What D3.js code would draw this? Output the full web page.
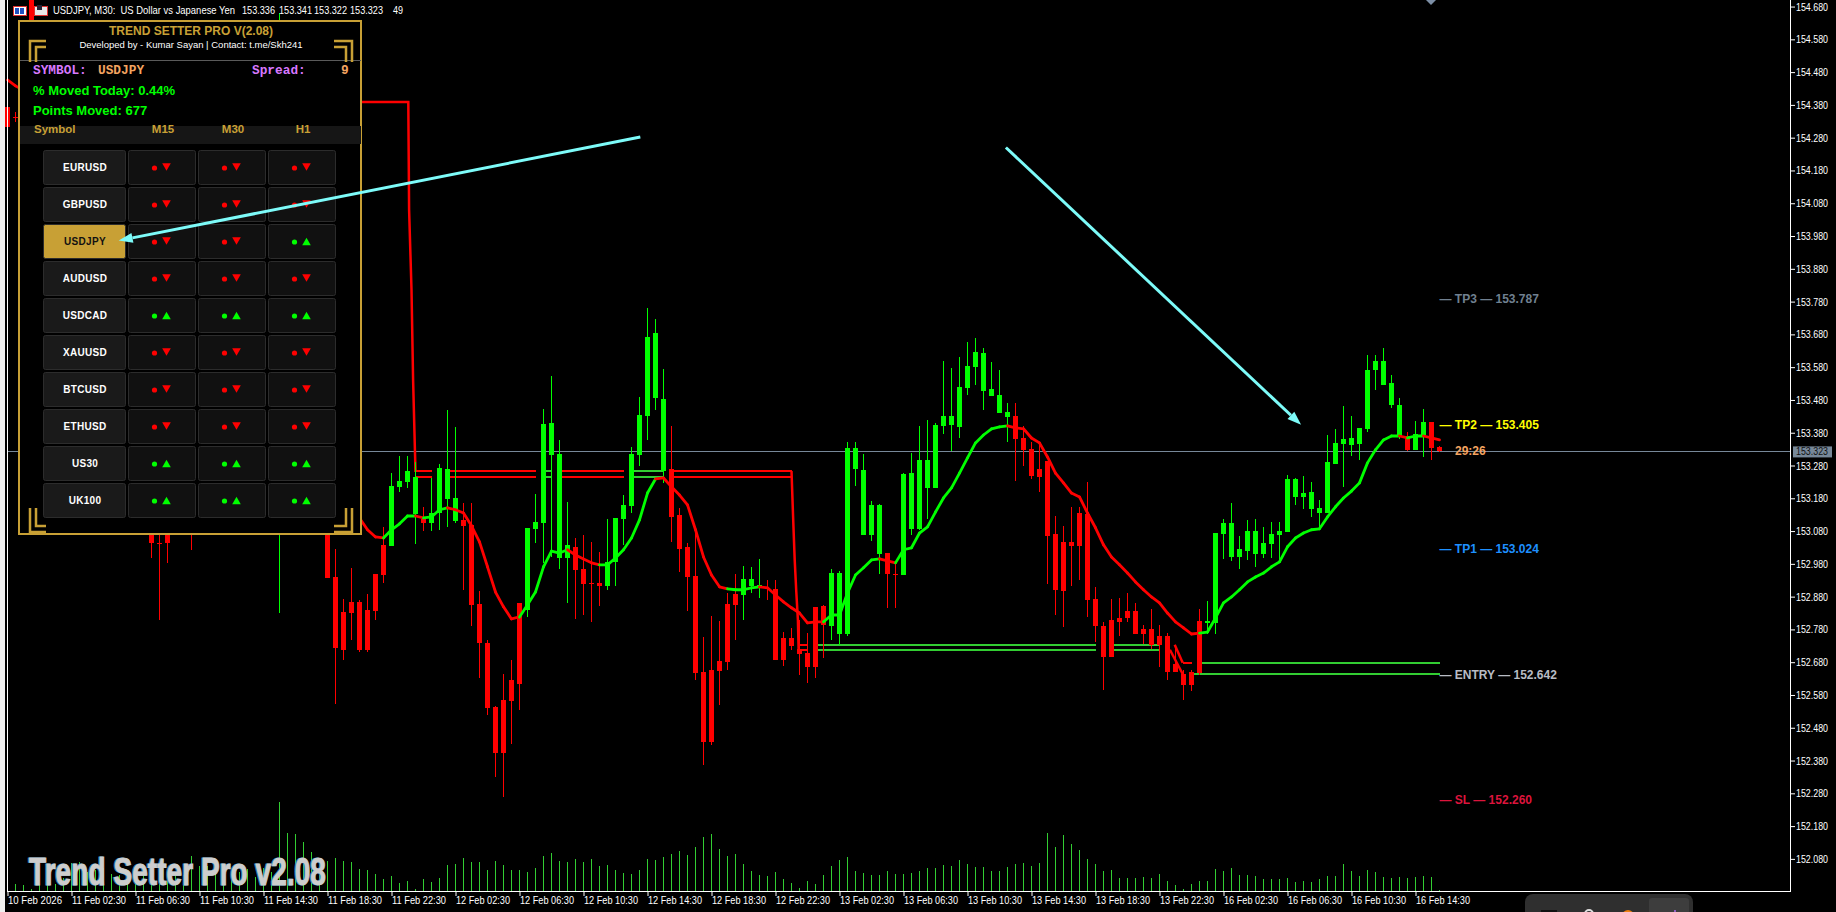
<!DOCTYPE html>
<html>
<head>
<meta charset="utf-8">
<title>USDJPY M30</title>
<script src="https://cdn.jsdelivr.net/npm/d3@7"></script>
<style>
  html, body { margin: 0; padding: 0; background: #000; overflow: hidden; }
  svg { display: block; }
  text { font-family: "Liberation Sans", Arial, sans-serif; }
  .narrow text, text.narrow { font-size: 11px; fill: #fff; }
</style>
</head>
<body>
<svg></svg>
<script>
  var _ = null;

  // bar data, one entry per M30 bar. null = sits behind the panel, can't be read
  var opens = [
    154.374,154.343,_,154.700,_,_,_,_,_,_,
    _,_,_,_,_,_,_,_,153.175,153.044,
    153.145,_,_,153.145,_,_,_,_,_,_,
    _,_,_,_,153.419,_,_,_,_,_,
    153.175,152.940,152.834,152.864,152.864,152.840,152.949,153.038,153.035,153.215,
    153.230,153.132,153.117,153.105,153.135,153.178,153.111,153.114,153.099,152.858,
    152.739,152.544,152.565,152.626,152.861,152.840,153.087,153.105,153.312,152.998,
    152.998,153.032,152.965,152.922,152.922,152.913,152.986,153.117,153.157,153.312,
    153.431,153.486,153.263,153.270,153.129,153.032,152.943,152.650,152.657,152.684,
    152.858,152.888,152.885,152.913,152.907,152.907,152.904,152.754,152.754,152.721,
    152.708,152.849,152.852,152.791,152.766,152.766,153.270,153.068,153.068,153.010,
    153.013,152.949,152.946,153.087,153.087,153.212,153.212,153.401,153.404,153.398,
    153.517,153.581,153.507,153.492,153.440,153.428,153.431,153.364,153.331,153.270,
    153.294,153.071,153.047,153.047,153.135,153.132,152.873,152.791,152.809,152.815,
    152.836,152.836,152.782,152.782,152.760,152.760,152.675,152.644,152.650,152.806,
    152.800,152.800,153.071,153.001,153.001,153.019,153.010,153.010,153.041,153.068,
    153.077,153.184,153.184,153.148,153.135,153.135,153.285,153.346,153.343,153.346,
    153.392,153.572,153.526,153.465,153.370,153.370,153.328,153.373,153.413,153.336
  ];
  var highs = [
    154.395,154.358,_,154.700,_,_,_,_,_,_,
    _,_,_,_,_,_,_,_,153.206,153.175,
    153.175,_,_,153.175,_,_,_,_,_,_,
    _,_,_,_,154.660,_,_,_,_,_,
    153.236,153.026,152.873,152.968,152.870,152.888,152.949,153.093,153.257,153.309,
    153.309,153.291,153.154,153.242,153.285,153.450,153.398,153.166,153.166,152.897,
    152.748,152.547,152.644,152.687,152.861,153.090,153.193,153.453,153.553,153.358,
    153.169,153.059,153.068,153.047,153.016,153.117,153.120,153.190,153.337,153.489,
    153.761,153.727,153.575,153.401,153.151,153.044,153.074,152.757,152.821,152.806,
    152.891,152.949,152.974,152.971,152.995,152.931,152.931,152.772,152.785,152.809,
    152.769,152.849,152.855,152.965,152.958,153.352,153.352,153.315,153.172,153.163,
    153.013,152.983,153.257,153.318,153.401,153.419,153.410,153.599,153.578,153.611,
    153.657,153.669,153.639,153.596,153.572,153.471,153.471,153.401,153.352,153.352,
    153.294,153.126,153.096,153.154,153.154,153.230,152.910,152.803,152.873,152.876,
    152.891,152.861,152.794,152.843,152.794,152.769,152.727,152.657,152.657,152.843,
    152.867,153.074,153.117,153.166,153.065,153.114,153.117,153.093,153.108,153.108,
    153.251,153.242,153.248,153.230,153.175,153.373,153.392,153.462,153.431,153.395,
    153.617,153.617,153.639,153.556,153.486,153.382,153.416,153.453,153.413,153.341
  ];
  var lows = [
    154.288,154.328,_,154.517,_,_,_,_,_,_,
    _,_,_,_,_,_,_,_,152.998,152.809,
    152.983,_,_,153.023,_,_,_,_,_,_,
    _,_,_,_,152.830,_,_,_,_,_,
    152.937,152.553,152.687,152.748,152.711,152.711,152.809,152.922,153.035,153.199,
    153.212,153.041,153.080,153.080,153.084,153.093,153.105,152.901,152.791,152.632,
    152.519,152.330,152.269,152.431,152.535,152.818,153.044,152.983,153.001,152.965,
    152.861,152.812,152.824,152.803,152.852,152.901,152.913,153.038,153.135,153.279,
    153.358,153.450,153.227,153.047,152.955,152.836,152.626,152.367,152.428,152.550,
    152.657,152.748,152.809,152.891,152.876,152.870,152.687,152.669,152.718,152.641,
    152.617,152.632,152.693,152.748,152.733,152.760,153.218,153.068,153.050,152.949,
    152.846,152.846,152.946,153.068,153.084,153.117,153.212,153.376,153.324,153.364,
    153.495,153.526,153.450,153.492,153.440,153.352,153.233,153.279,153.239,153.199,
    152.919,152.824,152.788,152.913,152.931,152.818,152.742,152.596,152.696,152.760,
    152.803,152.766,152.736,152.721,152.666,152.626,152.650,152.565,152.592,152.641,
    152.766,152.766,152.995,152.989,152.965,152.992,152.971,152.998,152.998,152.989,
    153.077,153.160,153.148,153.123,153.087,153.135,153.285,153.215,153.309,153.297,
    153.382,153.511,153.526,153.456,153.361,153.324,153.328,153.306,153.297,153.322
  ];
  var closes = [
    154.313,154.340,_,154.517,_,_,_,_,_,_,
    _,_,_,_,_,_,_,_,153.044,153.041,
    153.044,_,_,153.114,_,_,_,_,_,_,
    _,_,_,_,153.480,_,_,_,_,_,
    152.937,152.724,152.718,152.830,152.718,152.718,152.836,152.946,153.218,153.233,
    153.263,153.245,153.105,153.135,153.273,153.270,153.181,153.096,152.855,152.739,
    152.541,152.403,152.403,152.562,152.614,153.090,153.108,153.407,153.410,153.315,
    153.038,152.962,152.919,152.919,152.913,152.986,153.120,153.160,153.315,153.434,
    153.672,153.684,153.483,153.123,153.026,152.940,152.647,152.437,152.437,152.653,
    152.681,152.855,152.934,152.934,152.916,152.904,152.687,152.687,152.730,152.705,
    152.666,152.666,152.794,152.952,152.952,153.334,153.334,153.267,153.160,153.160,
    152.949,152.946,153.254,153.257,153.297,153.297,153.404,153.431,153.431,153.520,
    153.584,153.626,153.623,153.514,153.495,153.443,153.361,153.328,153.248,153.245,
    153.065,152.901,152.897,153.035,153.035,152.870,152.791,152.696,152.696,152.803,
    152.815,152.766,152.766,152.733,152.733,152.650,152.650,152.611,152.611,152.647,
    152.806,153.074,153.105,153.105,153.026,153.080,153.080,153.044,153.071,153.080,
    153.239,153.239,153.196,153.199,153.151,153.291,153.349,153.361,153.364,153.395,
    153.572,153.599,153.599,153.532,153.465,153.328,153.376,153.413,153.334,153.323
  ];
  var volumes = [
    0,7,6,2,6,9,7,13,28,29,
    19,21,23,17,16,19,15,18,21,29,
    16,19,16,35,25,25,19,20,21,19,
    22,14,23,19,89,58,57,49,39,30,
    30,33,30,29,22,21,17,12,15,8,
    10,2,12,9,13,26,27,33,29,29,
    21,30,26,21,21,19,23,35,38,30,
    29,32,29,32,25,26,21,18,17,21,
    32,31,34,37,40,36,44,54,57,42,
    35,37,27,20,16,15,19,12,8,3,
    10,7,16,25,31,34,20,18,16,16,
    20,17,17,18,20,23,23,26,25,31,
    27,24,24,20,20,24,27,28,25,28,
    58,44,56,47,41,32,27,20,21,13,
    13,13,14,13,17,10,6,2,7,10,
    10,22,20,23,16,16,15,12,12,12,
    13,9,10,9,12,15,15,27,20,15,
    21,19,14,13,14,13,14,15,14,0.65
  ];
  var maValues = [
    154.456,154.438,154.425,_,_,_,_,_,_,_,
    _,_,_,_,_,_,_,_,_,_,
    _,_,_,_,_,_,_,_,_,_,
    _,_,_,_,_,_,_,_,_,_,
    _,_,_,_,153.120,153.084,153.062,153.059,153.084,153.102,
    153.126,153.126,153.120,153.123,153.145,153.151,153.145,153.135,153.096,153.047,
    152.971,152.894,152.849,152.812,152.818,152.855,152.894,152.971,153.019,153.013,
    153.023,153.007,152.995,152.983,152.977,152.977,152.998,153.023,153.059,153.114,
    153.196,153.239,153.242,153.215,153.190,153.160,153.084,153.001,152.946,152.910,
    152.904,152.901,152.901,152.907,152.910,152.907,152.885,152.864,152.846,152.830,
    152.800,152.803,152.803,152.824,152.824,152.891,152.946,152.968,152.992,152.995,
    152.989,152.983,153.023,153.029,153.074,153.093,153.138,153.181,153.212,153.257,
    153.303,153.349,153.373,153.392,153.398,153.401,153.395,153.392,153.364,153.349,
    153.306,153.257,153.227,153.196,153.184,153.135,153.090,153.038,153.001,152.977,
    152.952,152.925,152.901,152.879,152.861,152.830,152.803,152.785,152.766,152.769,
    152.772,152.815,152.861,152.879,152.901,152.925,152.940,152.952,152.971,152.986,
    153.032,153.059,153.074,153.084,153.087,153.123,153.154,153.181,153.202,153.227,
    153.288,153.328,153.358,153.370,153.370,153.364,153.370,153.370,153.364,153.358
  ];
  // bar ranges where the MA is falling (drawn red)
  var maDownRanges = [[0,47],[52,52],[56,64],[71,74],[82,90],[95,102],[110,111],[126,149],[175,175],[178,179]];

  // level lines: bar from, bar to, price
  var redLevels = [
    [51,53.1,153.263],[51,53.1,153.245],[55.1,66.1,153.263],[55.1,66.1,153.245],
    [69.1,77.1,153.263],[69.1,77.1,153.245],[83.2,98,153.263],[83.2,98,153.245],
    [98.9,100,152.733],[98.9,100,152.718],[146.9,148.1,152.678]
  ];
  var greenLevels = [
    [66.8,68,153.263],[66.8,68,153.245],[78.2,82,153.263],[78.2,82,153.245],
    [100.9,136.1,152.733],[100.9,136.1,152.718],[137.9,143.9,152.733],[137.9,143.9,152.718],
    [149,179.1,152.678],[147.9,179.1,152.644]
  ];
  // stepping lines [bar, price]
  var redPaths = [
    [[44,154.389],[50.1,154.389],[50.2,154.06],[50.5,153.816],[50.7,153.541],[51,153.26]],
    [[98,153.263],[98.2,153.123],[98.4,152.992],[98.6,152.894],[98.8,152.809],[98.9,152.708]],
    [[145.9,152.733],[146.9,152.678]],
    [[145.3,152.718],[146.9,152.644]]
  ];

  var currentPrice = 153.323;
  var priceTicks = [154.68,154.58,154.48,154.38,154.28,154.18,154.08,153.98,153.88,153.78,153.68,153.58,153.48,153.38,153.28,153.18,153.08,152.98,152.88,152.78,152.68,152.58,152.48,152.38,152.28,152.18,152.08];
  var timeLabels = ['10 Feb 2026','11 Feb 02:30','11 Feb 06:30','11 Feb 10:30','11 Feb 14:30','11 Feb 18:30','11 Feb 22:30','12 Feb 02:30','12 Feb 06:30','12 Feb 10:30','12 Feb 14:30','12 Feb 18:30','12 Feb 22:30','13 Feb 02:30','13 Feb 06:30','13 Feb 10:30','13 Feb 14:30','13 Feb 18:30','13 Feb 22:30','16 Feb 02:30','16 Feb 06:30','16 Feb 10:30','16 Feb 14:30'];

  var levelNames = ['TP3','TP2','TP1','ENTRY','SL'];
  var levelPrices = [153.787,153.405,153.024,152.642,152.260];
  var levelColors = ['#708090','#ffff00','#1e90ff','#b8bcc4','#dc143c'];

  var symbols = ['EURUSD','GBPUSD','USDJPY','AUDUSD','USDCAD','XAUUSD','BTCUSD','ETHUSD','US30','UK100'];
  var timeframes = ['M15','M30','H1'];
  var signals = [
    [-1,-1,-1],[-1,-1,-1],[-1,-1,1],[-1,-1,-1],[1,1,1],
    [-1,-1,-1],[-1,-1,-1],[-1,-1,-1],[1,1,1],[1,1,1]
  ];
  // [bar, price] start and tip
  var arrows = [
    [[79.1,154.282],[13.9,153.966]],
    [[124.8,154.25],[161.7,153.404]]
  ];

  var width = 1836, height = 912;
  var red = '#ff0000', lime = '#00ff00', limeDim = '#32cd32', gold = '#c8a035';

  var svg = d3.select('svg').attr('width', width).attr('height', height).style('background', '#000');

  var xScale = d3.scaleLinear().domain([0,222.875]).range([7.5,1790.5]);
  var yScale = d3.scaleLinear().domain([154.70,151.979]).range([0,892]);
  var volScale = d3.scaleLinear().domain([0,89]).range([891,802]);
  var bars = d3.range(opens.length);

  // squeeze a text to the width MT4 gives it, there's no Tahoma here
  function fit(sel, w) {
    return sel.attr('textLength', w).attr('lengthAdjust', 'spacingAndGlyphs');
  }

  // window edge
  svg.append('rect').attr('x',0).attr('y',0).attr('width',5).attr('height',height).attr('fill','#f0f0f0');

  // volumes
  svg.append('g').attr('shape-rendering','crispEdges').selectAll('line').data(bars).enter().append('line')
    .attr('x1', function(i) { return xScale(i); })
    .attr('x2', function(i) { return xScale(i); })
    .attr('y1', 891)
    .attr('y2', function(i) { return volScale(volumes[i]); })
    .attr('stroke', limeDim);

  // current price line
  svg.append('line').attr('x1',7).attr('x2',1790)
    .attr('y1',Math.round(yScale(currentPrice))+0.5).attr('y2',Math.round(yScale(currentPrice))+0.5)
    .attr('stroke','#778899').attr('shape-rendering','crispEdges');

  // level lines under the candles
  var levels = svg.append('g').attr('shape-rendering','crispEdges');
  function drawLevels(list, color) {
    levels.selectAll(null).data(list).enter().append('line')
      .attr('x1', function(d) { return xScale(d[0]); })
      .attr('x2', function(d) { return xScale(d[1]); })
      .attr('y1', function(d) { return yScale(d[2]); })
      .attr('y2', function(d) { return yScale(d[2]); })
      .attr('stroke', color).attr('stroke-width', 2);
  }
  drawLevels(greenLevels, limeDim);
  drawLevels(redLevels, red);

  var stepLine = d3.line().x(function(d) { return xScale(d[0]); }).y(function(d) { return yScale(d[1]); });
  svg.append('g').selectAll('path').data(redPaths).enter().append('path')
    .attr('d', stepLine).attr('fill','none').attr('stroke',red).attr('stroke-width',2.5);

  // candles
  var known = bars.filter(function(i) { return opens[i] !== null; });
  var candles = svg.append('g').attr('shape-rendering','crispEdges');
  function candleColor(i) { return closes[i] >= opens[i] ? lime : red; }
  candles.selectAll('line').data(known).enter().append('line')
    .attr('x1', function(i) { return xScale(i); })
    .attr('x2', function(i) { return xScale(i); })
    .attr('y1', function(i) { return Math.round(yScale(highs[i])); })
    .attr('y2', function(i) { return Math.round(yScale(lows[i])); })
    .attr('stroke', candleColor);
  candles.selectAll('rect').data(known).enter().append('rect')
    .attr('x', function(i) { return xScale(i) - 2.5; })
    .attr('width', 5)
    .attr('y', function(i) { return Math.round(yScale(Math.max(opens[i],closes[i]))); })
    .attr('height', function(i) { return Math.max(1, Math.round(Math.abs(yScale(opens[i])-yScale(closes[i])))); })
    .attr('fill', candleColor);

  // moving average, one colour per stretch
  function isDown(i) {
    return maDownRanges.some(function(r) { return i >= r[0] && i <= r[1]; });
  }
  var maLine = d3.line().x(function(i) { return xScale(i); }).y(function(i) { return yScale(maValues[i]); });
  var maGroup = svg.append('g').attr('fill','none').attr('stroke-width',2.8);
  d3.range(1, bars.length).forEach(function(i) {
    if (maValues[i] === null || maValues[i-1] === null) return;
    maGroup.append('path').attr('d', maLine([i-1,i])).attr('stroke-linecap','round')
      .attr('stroke', isDown(i) ? red : lime);
  });

  // axes
  var yAxis = d3.axisRight(yScale).tickValues(priceTicks).tickSize(5).tickSizeOuter(0).tickPadding(1).tickFormat(d3.format('.3f'));
  var yAxisG = svg.append('g').attr('class','narrow').attr('transform','translate(1790,0)').call(yAxis);
  yAxisG.select('.domain').remove();
  yAxisG.selectAll('line').attr('stroke','#fff');
  fit(yAxisG.selectAll('text'), 32);

  svg.append('rect').attr('x',1790).attr('y',0).attr('width',1).attr('height',892).attr('fill','#fff');
  svg.append('rect').attr('x',7).attr('y',0).attr('width',1).attr('height',892).attr('fill','#fff');

  var xAxis = d3.axisBottom(xScale)
    .tickValues(timeLabels.map(function(d,i) { return i * 8; }))
    .tickSize(5).tickSizeOuter(0)
    .tickFormat(function(d) { return timeLabels[d / 8]; });
  var xAxisG = svg.append('g').attr('class','narrow').attr('transform','translate(0,891)').call(xAxis);
  xAxisG.select('.domain').remove();
  xAxisG.selectAll('line').attr('stroke','#fff');
  xAxisG.selectAll('text').attr('text-anchor','start').attr('x',0).attr('y',5).attr('dy','0.71em');
  fit(xAxisG.selectAll('text'), 54);
  svg.append('rect').attr('x',7).attr('y',891).attr('width',1784).attr('height',1).attr('fill','#fff');

  // current price tag
  svg.append('rect').attr('x',1793).attr('y',yScale(currentPrice)-5).attr('width',39).attr('height',11).attr('fill','#778899');
  fit(svg.append('text').attr('class','narrow').attr('x',1796).attr('y',yScale(currentPrice)+4).style('fill','#111').text(currentPrice.toFixed(3)), 32);

  // level labels
  svg.append('g').selectAll('text').data(levelNames).enter().append('text')
    .attr('x', xScale(179))
    .attr('y', function(d,i) { return yScale(levelPrices[i]) + 4; })
    .attr('font-size',12).attr('font-weight','bold')
    .attr('fill', function(d,i) { return levelColors[i]; })
    .text(function(d,i) { return '\u2014 ' + d + ' \u2014 ' + levelPrices[i].toFixed(3); });
  svg.append('text').attr('x',1455).attr('y',yScale(currentPrice)+4)
    .attr('font-size',12).attr('font-weight','bold').attr('fill','#f4a460').text('29:26');

  // title row
  var title = svg.append('g').attr('class','narrow');
  fit(title.append('text').attr('x',53).attr('y',14).text('USDJPY, M30:\u00a0\u00a0US Dollar vs Japanese Yen'), 182);
  fit(title.append('text').attr('x',242).attr('y',14).text('153.336'), 33);
  fit(title.append('text').attr('x',279).attr('y',14).text('153.341'), 33);
  fit(title.append('text').attr('x',314).attr('y',14).text('153.322'), 33);
  fit(title.append('text').attr('x',350).attr('y',14).text('153.323'), 33);
  fit(title.append('text').attr('x',393).attr('y',14).text('49'), 10);
  var icon = svg.append('g').attr('shape-rendering','crispEdges');
  icon.append('rect').attr('x',13).attr('y',6).attr('width',13).attr('height',9).attr('fill','#fff').attr('stroke','#e03030');
  icon.append('rect').attr('x',15).attr('y',8).attr('width',4).attr('height',6).attr('fill','#2050c0');
  icon.append('rect').attr('x',20).attr('y',8).attr('width',4).attr('height',6).attr('fill','#2050c0');
  icon.append('rect').attr('x',34).attr('y',6).attr('width',13).attr('height',9).attr('fill','#e8e8e8').attr('stroke','#e03030');
  icon.append('rect').attr('x',37).attr('y',5).attr('width',5).attr('height',5).attr('fill','#223');

  // panel
  var panel = svg.append('g');
  panel.append('rect').attr('x',19).attr('y',21).attr('width',342).attr('height',513)
    .attr('fill','#000').attr('stroke',gold).attr('stroke-width',2);
  panel.append('text').attr('x',191).attr('y',35).attr('text-anchor','middle')
    .attr('font-size',12).attr('font-weight','bold').attr('fill',gold).text('TREND SETTER PRO V(2.08)');
  panel.append('text').attr('x',191).attr('y',47.5).attr('text-anchor','middle')
    .attr('font-size',9.5).attr('fill','#fff').text('Developed by - Kumar Sayan | Contact: t.me/Skh241');
  panel.append('line').attr('x1',20).attr('x2',361).attr('y1',60.5).attr('y2',60.5).attr('stroke','#5a5a5a');

  // corner brackets
  var corners = d3.path();
  [[30,62,30,41,46,41],[352,62,352,41,334,41],[30,508,30,532,46,532],[352,508,352,532,334,532]].forEach(function(c) {
    corners.moveTo(c[0],c[1]); corners.lineTo(c[2],c[3]); corners.lineTo(c[4],c[5]);
  });
  [[36,62,36,47,46,47],[346,62,346,47,334,47],[36,508,36,526,46,526],[346,508,346,526,334,526]].forEach(function(c) {
    corners.moveTo(c[0],c[1]); corners.lineTo(c[2],c[3]); corners.lineTo(c[4],c[5]);
  });
  panel.append('path').attr('d',corners.toString()).attr('fill','none').attr('stroke',gold).attr('stroke-width',2.5);

  var mono = '"Liberation Mono", monospace';
  function monoText(x, color, str) {
    panel.append('text').attr('x',x).attr('y',74).style('font-family',mono).attr('font-size',12.8)
      .attr('font-weight','bold').attr('fill',color).text(str);
  }
  monoText(33, '#d878ff', 'SYMBOL:');
  monoText(98, '#f4a460', 'USDJPY');
  monoText(252, '#d878ff', 'Spread:');
  monoText(341, '#f4a460', '9');
  panel.append('text').attr('x',33).attr('y',95).attr('font-size',13).attr('font-weight','bold').attr('fill',lime).text('% Moved Today: 0.44%');
  panel.append('text').attr('x',33).attr('y',115).attr('font-size',13).attr('font-weight','bold').attr('fill',lime).text('Points Moved: 677');

  panel.append('rect').attr('x',20).attr('y',126).attr('width',341).attr('height',18).attr('fill','#161616');
  panel.append('text').attr('x',34).attr('y',133).attr('font-size',11.5).attr('font-weight','bold').attr('fill',gold).text('Symbol');

  var colX = d3.scalePoint().domain(timeframes).range([128,268]);
  panel.selectAll('.tf').data(timeframes).enter().append('text').attr('class','tf')
    .attr('x', function(d) { return colX(d) + 35; }).attr('y',133).attr('text-anchor','middle')
    .attr('font-size',11.5).attr('font-weight','bold').attr('fill',gold).text(function(d) { return d; });

  var rowY = d3.scalePoint().domain(symbols).range([150,483]);
  var rows = panel.selectAll('.row').data(symbols).enter().append('g').attr('class','row')
    .attr('transform', function(d) { return 'translate(0,' + rowY(d) + ')'; });
  rows.append('rect').attr('x',43.5).attr('y',0.5).attr('width',82).attr('height',34).attr('rx',2)
    .attr('fill', function(d) { return d === 'USDJPY' ? gold : '#1a1a1a'; })
    .attr('stroke','#2c2c2c');
  rows.append('text').attr('x',85).attr('y',21).attr('text-anchor','middle')
    .attr('font-size',10).attr('font-weight','bold').attr('letter-spacing',0.3)
    .attr('fill', function(d) { return d === 'USDJPY' ? '#111' : '#fff'; })
    .text(function(d) { return d; });

  timeframes.forEach(function(tf, c) {
    rows.append('rect').attr('x',colX(tf)+0.5).attr('y',0.5).attr('width',67).attr('height',34).attr('rx',2)
      .attr('fill','#111').attr('stroke','#2c2c2c');
    rows.append('circle').attr('cx',colX(tf)+26.5).attr('cy',18).attr('r',2.6)
      .attr('fill', function(d,r) { return signals[r][c] > 0 ? lime : red; });
    rows.append('path')
      .attr('d', d3.symbol().type(d3.symbolTriangle).size(32))
      .attr('transform', function(d,r) {
        return 'translate(' + (colX(tf)+38.5) + ',' + (signals[r][c] > 0 ? 18.8 : 15.8) + ') rotate(' + (signals[r][c] > 0 ? 0 : 180) + ')';
      })
      .attr('fill', function(d,r) { return signals[r][c] > 0 ? lime : red; });
  });

  // arrows
  var arrowColor = '#7dfbf9';
  arrows.forEach(function(a) {
    var x0 = xScale(a[0][0]), y0 = yScale(a[0][1]), x1 = xScale(a[1][0]), y1 = yScale(a[1][1]);
    var ang = Math.atan2(y1-y0, x1-x0), size = 14, wide = 5;
    var bx = x1 - size*Math.cos(ang), by = y1 - size*Math.sin(ang);
    svg.append('line').attr('x1',x0).attr('y1',y0).attr('x2',bx).attr('y2',by).attr('stroke',arrowColor).attr('stroke-width',3);
    svg.append('polygon').attr('fill',arrowColor)
      .attr('points',[[x1,y1],[bx-wide*Math.sin(ang),by+wide*Math.cos(ang)],[bx+wide*Math.sin(ang),by-wide*Math.cos(ang)]].join(' '));
  });

  // watermark
  function watermark(x, color) {
    fit(svg.append('text').attr('x',x).attr('y',885).attr('font-size',38).attr('font-weight','bold')
      .attr('fill',color).attr('stroke',color).attr('stroke-width',1).text('Trend Setter Pro v2.08'), 297);
  }
  watermark(28, '#2f7fb0');
  watermark(29, '#cdcdcd');

  // taskbar dock and top marker
  svg.append('rect').attr('x',1525).attr('y',894).attr('width',168).attr('height',30).attr('rx',8).attr('fill','#2f2f2f');
  svg.append('rect').attr('x',1649).attr('y',898).attr('width',40).attr('height',30).attr('rx',3).attr('fill','#3d3d3d');
  svg.append('rect').attr('x',1541).attr('y',910).attr('width',16).attr('height',4).attr('fill','#111');
  svg.append('circle').attr('cx',1589).attr('cy',914).attr('r',4).attr('fill','none').attr('stroke','#ddd').attr('stroke-width',2);
  svg.append('circle').attr('cx',1628).attr('cy',916).attr('r',6).attr('fill','#f08010');
  svg.append('rect').attr('x',1674).attr('y',910).attr('width',2).attr('height',4).attr('fill','#9060c0');
  svg.append('path').attr('d','M1426,0 L1436,0 L1431,5 Z').attr('fill','#7d8fa6');
</script>
</body>
</html>
